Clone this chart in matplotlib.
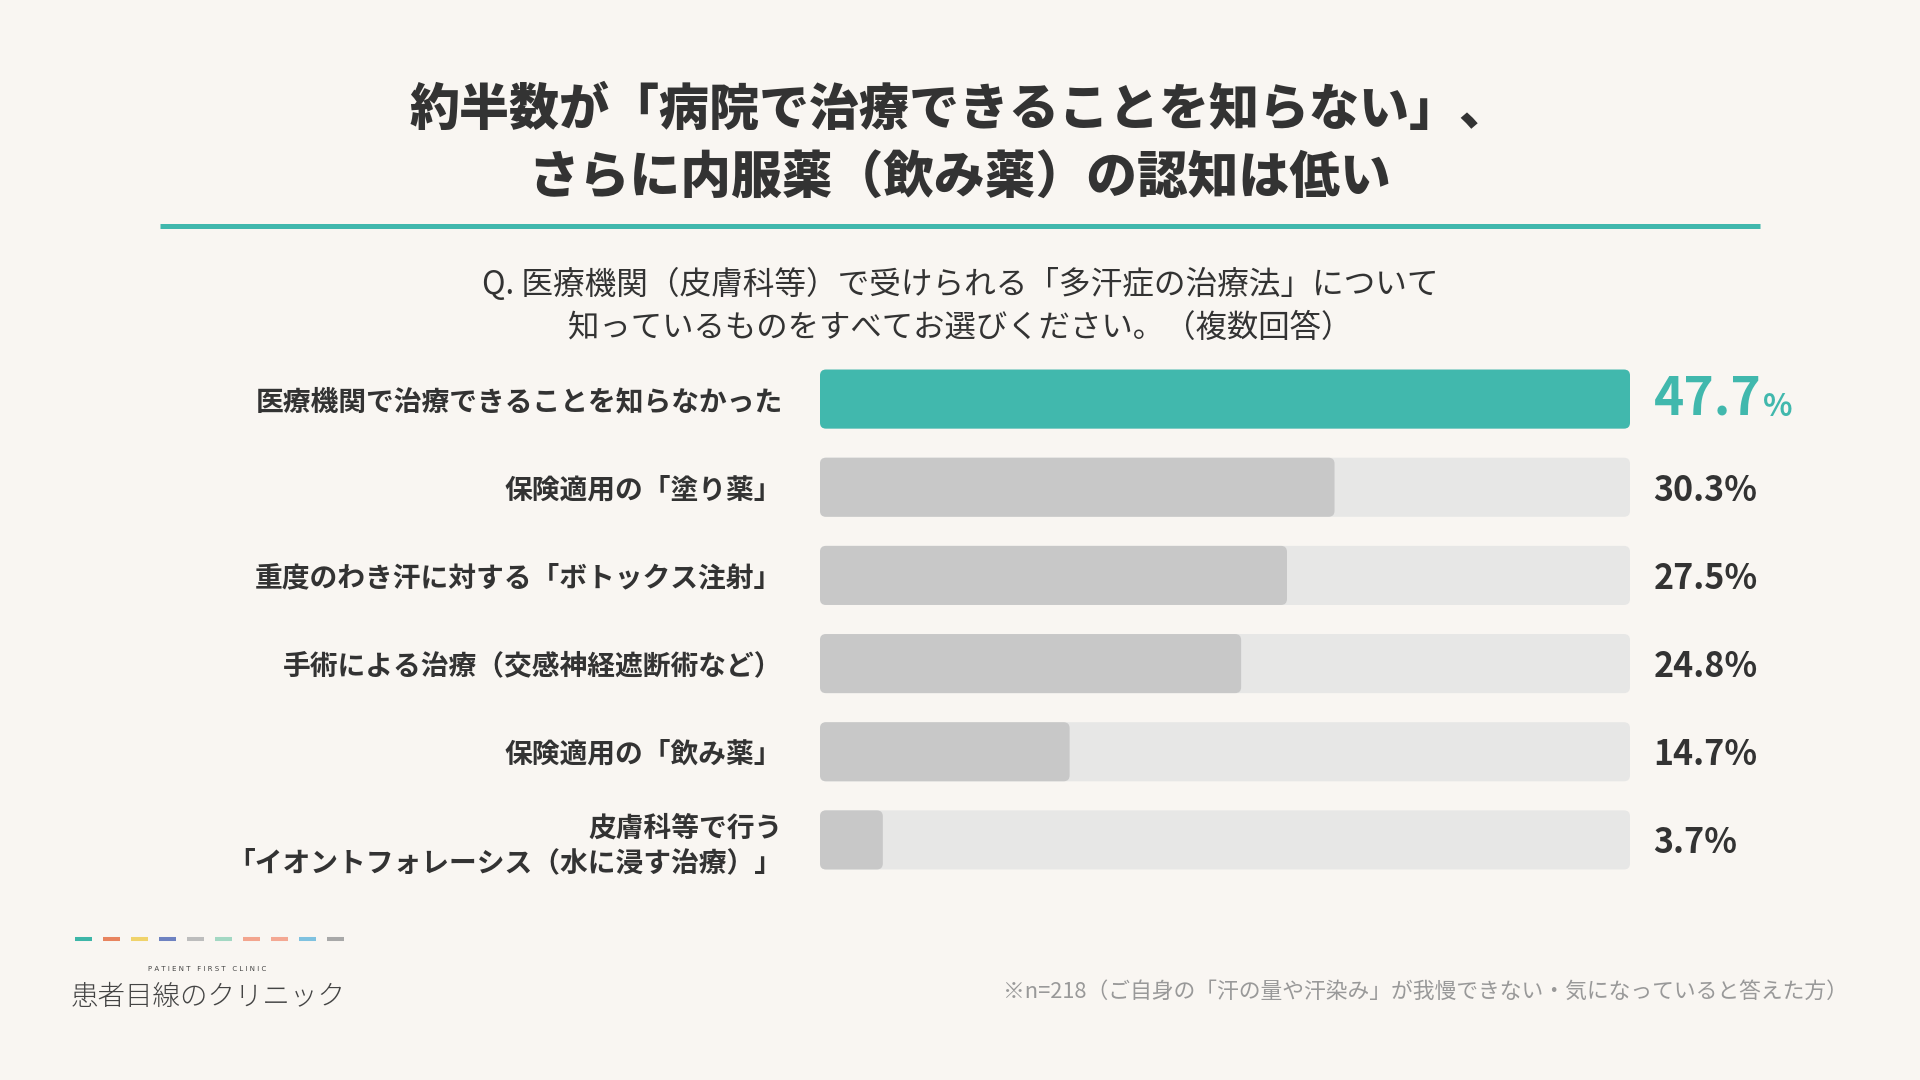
import matplotlib
matplotlib.use('Agg')
import matplotlib.pyplot as plt
from matplotlib.patches import FancyBboxPatch
from matplotlib.lines import Line2D

# ---------------- data ----------------
categories = [
    "医療機関で治療できることを知らなかった",
    "保険適用の「塗り薬」",
    "重度のわき汗に対する「ボトックス注射」",
    "手術による治療（交感神経遮断術など）",
    "保険適用の「飲み薬」",
    "皮膚科等で行う\n「イオントフォレーシス（水に浸す治療）」",
]
values = [47.7, 30.3, 27.5, 24.8, 14.7, 3.7]
highlight_index = 0

title_lines = ["約半数が「病院で治療できることを知らない」、",
               "さらに内服薬（飲み薬）の認知は低い"]
question_lines = ["Q. 医療機関（皮膚科等）で受けられる「多汗症の治療法」について",
                  "知っているものをすべてお選びください。（複数回答）"]
footnote = "※n=218（ご自身の「汗の量や汗染み」が我慢できない・気になっていると答えた方）"
logo_sub = "P A T I E N T   F I R S T   C L I N I C"
logo_main = "患者目線のクリニック"

# ---------------- style ----------------
BG = '#f9f6f2'
TEAL = '#41b8ad'
GRAY_BAR = '#c8c8c8'
TRACK = '#e7e7e6'
DARK = '#333333'
dash_colors = ['#3db6a8', '#e8845f', '#f0d36b', '#6e82c1', '#bdbdbd',
               '#a3d8c3', '#f3a58e', '#f4a893', '#7fc2e0', '#a8a8a8']

plt.rcParams['font.family'] = ['Noto Sans CJK JP', 'DejaVu Sans']

W, H = 1920, 1080
fig = plt.figure(figsize=(19.2, 10.8), dpi=100, facecolor=BG)


def fx(x):
    return x / W


def fy(y):
    return 1 - y / H


# title
fig.text(fx(960), fy(110), title_lines[0], ha='center', va='center',
         fontsize=36, fontweight='heavy', color=DARK)
fig.text(fx(960), fy(178), title_lines[1], ha='center', va='center',
         fontsize=36.5, fontweight='heavy', color=DARK)
fig.add_artist(Line2D([fx(160), fx(1760)], [fy(226), fy(226)],
                      color=TEAL, lw=3.6, solid_capstyle='butt'))

# question
fig.text(fx(960), fy(284), question_lines[0], ha='center', va='center',
         fontsize=22.8, color=DARK)
fig.text(fx(960), fy(328), question_lines[1], ha='center', va='center',
         fontsize=22.6, color=DARK)

# ---------------- bars ----------------
n = len(values)
ax_left, ax_right = 820, 1630
ax_top, ax_bottom = 355, 884
ax = fig.add_axes([fx(ax_left), fy(ax_bottom), (ax_right - ax_left) / W,
                   (ax_bottom - ax_top) / H])
ax.set_facecolor('none')
xmax = max(values)
ax.set_xlim(0, xmax)
ax.set_ylim(n - 0.5, -0.5)
for s in ax.spines.values():
    s.set_visible(False)
ax.set_xticks([])
ax.set_yticks(range(n), labels=categories)
ax.tick_params(axis='y', length=0, pad=27)
for lab in ax.get_yticklabels():
    lab.set_fontsize(20)
    lab.set_fontweight('bold')
    lab.set_color(DARK)
    lab.set_linespacing(1.28)

px_x = xmax / (ax_right - ax_left)
px_y = n / (ax_bottom - ax_top)
radius = 6
bh = 0.67
style = f"round,pad=0,rounding_size={radius * px_x}"
aspect = px_y / px_x

for i, v in enumerate(values):
    ax.add_patch(FancyBboxPatch((0, i - bh / 2), xmax, bh, boxstyle=style,
                                mutation_aspect=aspect, facecolor=TRACK,
                                edgecolor='none'))
    ax.add_patch(FancyBboxPatch((0, i - bh / 2), v, bh, boxstyle=style,
                                mutation_aspect=aspect,
                                facecolor=TEAL if i == highlight_index else GRAY_BAR,
                                edgecolor='none'))
    if i == highlight_index:
        t1 = ax.annotate(f"{v:.1f}", xy=(1, i), xycoords=('axes fraction', 'data'),
                         xytext=(17, 0), textcoords='offset points',
                         ha='left', va='center', fontsize=37, fontweight='bold',
                         color=TEAL)
        ax.annotate("%", xy=(1, 0), xycoords=t1, xytext=(1.5, 2),
                    textcoords='offset points', ha='left', va='bottom',
                    fontsize=22, fontweight='bold', color=TEAL)
    else:
        ax.annotate(f"{v:.1f}%", xy=(1, i), xycoords=('axes fraction', 'data'),
                    xytext=(17, -2), textcoords='offset points',
                    ha='left', va='center', fontsize=24.5, fontweight='bold',
                    color=DARK)

# ---------------- footer ----------------
fig.text(fx(1848), fy(992), footnote, ha='right', va='center',
         fontsize=15.7, color='#999999')

x0, dw, pitch, dy = 75, 17, 28, 939
for k, c in enumerate(dash_colors):
    xs = x0 + k * pitch
    fig.add_artist(Line2D([fx(xs), fx(xs + dw)], [fy(dy), fy(dy)], color=c,
                          lw=2.9, solid_capstyle='butt'))
fig.text(fx(207), fy(969), logo_sub, ha='center', va='center',
         fontsize=5, color='#444444', family='DejaVu Sans')
fig.text(fx(208), fy(997), logo_main, ha='center', va='center',
         fontsize=19.8, fontweight='light', color='#444444')

fig.savefig('out.png', dpi=100, facecolor=BG)
